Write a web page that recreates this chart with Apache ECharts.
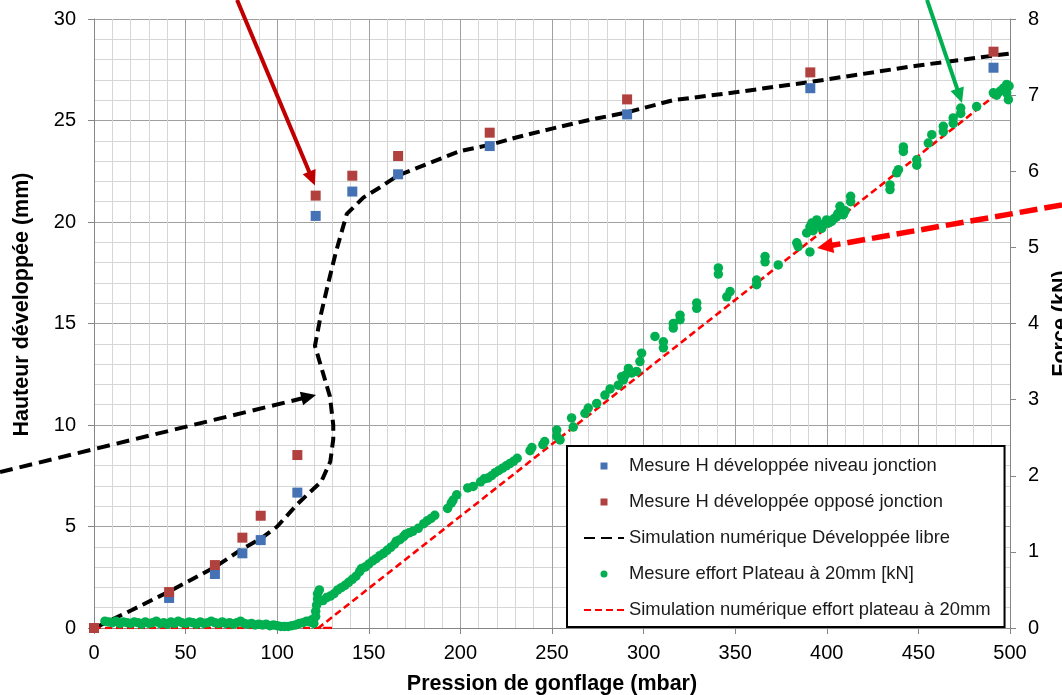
<!DOCTYPE html>
<html><head><meta charset="utf-8">
<script src="https://cdn.jsdelivr.net/npm/echarts@6/dist/echarts.min.js"></script>
<style>html,body{margin:0;padding:0;background:#fff}#c{width:1062px;height:695px}</style>
</head><body><div id="c"></div>
<script>
// ---- Data ----
const seriesNames = [
  'Mesure H développée niveau jonction',
  'Mesure H développée opposé jonction',
  'Simulation numérique Développée libre',
  'Mesure effort Plateau à 20mm [kN]',
  'Simulation numérique effort plateau à 20mm'
];
const measPressure = [0, 41, 66, 81, 91, 111, 121, 141, 166, 216, 291, 391, 491];
const hJonction    = [0, 1.48, 2.66, 3.68, 4.33, 6.67, 20.3, 21.5, 22.35, 23.74, 25.3, 26.59, 27.6];
const hOppose      = [0, 1.77, 3.1, 4.45, 5.53, 8.52, 21.3, 22.28, 23.25, 24.4, 26.04, 27.37, 28.39];

const simPressure = [1.5, 21, 41, 66, 81, 91, 100, 111, 118, 124, 129, 130.6, 130.6, 128.8, 120.6, 124, 127.9, 132, 134.5, 138, 147, 156, 166, 183, 200, 216, 232, 250, 269, 291, 316, 351, 391, 449, 500];
const simHauteur  = [0.05, 0.9, 1.8, 3.0, 3.9, 4.4, 5.0, 6.1, 6.7, 7.2, 8.2, 9.3, 10.0, 11.4, 13.9, 15.5, 17.0, 18.5, 19.3, 20.4, 21.2, 21.7, 22.3, 22.9, 23.5, 23.8, 24.2, 24.6, 25.0, 25.4, 26.0, 26.4, 26.9, 27.7, 28.3];

const forcePressure = [6,8,10,12,14,16,18,20,22,24,26,28,30,32,34,36,38,40,42,44,46,48,50,52,54,56,58,60,62,64,66,68,70,72,74,76,78,80,82,84,86,88,90,92,94,96,98,100,102,104,106,108,110,112,114,116,118,119,120,121,121,121.5,122,122,123,
  125,127,129,131,133,135,137,139,141,143,145,146,148,150,152,154,156,158,160,162,164,165,167,169,170,172,174,177,180,182,184,186,193,195,196,198,204,207,211,213,215,217,219,221,223,225,227,229,231,238,239,245,246,252.6,252.6,254.4,260.7,261.6,268,269.8,274.4,278.9,281.7,286.2,288,289,290,291.7,292,293.5,296.2,298,298.9,306.2,310.8,310.8,316.2,316.2,319.9,319.9,329,329,340.8,340.8,345.4,347.2,361.7,361.7,366.3,366.3,373.5,383.6,384.4,389,390.8,390.8,391.8,392.5,394.5,395.5,397.2,398.5,399.9,401,402.6,404,405.3,406,407.2,407.2,409,410,413,413,434.5,434.5,438.2,439.1,441.8,441.8,449.1,449.1,455.4,457.3,463.6,463.6,469,469,473.1,473.1,481.8,490.9,492.7,494.5,496.3,498.2,499.1,498.2,499.5];
const forceKN = [0.09,0.08,0.07,0.09,0.06,0.08,0.07,0.06,0.08,0.07,0.05,0.08,0.06,0.07,0.09,0.06,0.07,0.05,0.08,0.06,0.09,0.07,0.06,0.08,0.07,0.05,0.08,0.06,0.07,0.09,0.07,0.06,0.08,0.06,0.07,0.05,0.07,0.09,0.06,0.05,0.06,0.04,0.05,0.04,0.05,0.03,0.04,0.03,0.02,0.02,0.02,0.03,0.04,0.06,0.07,0.09,0.08,0.11,0.06,0.15,0.22,0.3,0.38,0.45,0.5,
  0.36,0.4,0.42,0.45,0.5,0.53,0.56,0.6,0.64,0.68,0.74,0.78,0.8,0.84,0.88,0.91,0.95,0.98,1.02,1.06,1.1,1.14,1.16,1.2,1.23,1.25,1.27,1.31,1.37,1.41,1.44,1.48,1.57,1.64,1.68,1.75,1.84,1.86,1.92,1.96,1.97,2.0,2.04,2.07,2.1,2.13,2.16,2.19,2.23,2.33,2.37,2.41,2.45,2.52,2.6,2.47,2.76,2.64,2.82,2.89,2.95,3.06,3.14,3.19,3.3,3.26,3.32,3.41,3.38,3.35,3.37,3.5,3.61,3.83,3.76,3.68,3.94,4.0,4.11,4.05,4.27,4.2,4.73,4.65,4.35,4.42,4.57,4.51,4.88,4.81,4.77,5.06,5.01,5.19,4.94,5.27,5.32,5.22,5.36,5.3,5.25,5.31,5.36,5.32,5.34,5.38,5.4,5.44,5.47,5.54,5.43,5.48,5.67,5.6,5.76,5.82,5.98,6.02,6.26,6.32,6.08,6.15,6.37,6.48,6.52,6.59,6.63,6.7,6.76,6.83,6.85,7.03,7.0,7.05,7.09,7.14,6.94,7.03,7.12];

const simForcePressure = [0, 130.5, 122.5, 492];
const simForceKN       = [0, 0, 0, 7.0];

// annotation arrows (data coordinates: mbar, mm)
const arrows = [
  {from:[78.1, 30.94], to:[120.6, 21.8], color:'#C00000', width:4, dash:null, head:15, hw:14},
  {from:[454.7, 30.94], to:[473.8, 25.86], color:'#00B050', width:4, dash:null, head:15, hw:14},
  {from:[528.4, 20.84], to:[394.7, 18.72], color:'#FF0000', width:5.5, dash:[18,7], head:16, hw:16},
  {from:[-51.3, 7.68], to:[121.2, 11.48], color:'#000000', width:4, dash:[13,7], head:15, hw:14}
];

const zip = (a, b) => a.map((v, i) => [v, b[i]]);

const chart = echarts.init(document.getElementById('c'), null, {renderer:'canvas'});
const font = 'Liberation Sans, Arial, sans-serif';
const majorC = '#A0A0A0', minorC = '#D6D6D6', axisC = '#868686';
const hiddenSym = {opacity: 0};

const option = {
  animation: false,
  backgroundColor: '#fff',
  textStyle: {fontFamily: font},
  grid: {left: 94, right: 52, top: 19, bottom: 67, containLabel: false, outerBoundsMode: 'none'},
  legend: {
    orient: 'vertical', left: 567, top: 446,
    padding: [11, 14, 8, 16],
    itemWidth: 40, itemHeight: 7, itemGap: 18,
    borderColor: '#000', borderWidth: 2, backgroundColor: '#fff',
    textStyle: {fontFamily: font, fontSize: 18.4, color: '#1a1a1a'},
    data: [
      {name: seriesNames[0], icon: 'path://M0,0H10V10H0Z'},
      {name: seriesNames[1], icon: 'path://M0,0H10V10H0Z'},
      {name: seriesNames[2], itemStyle: hiddenSym},
      {name: seriesNames[3], icon: 'circle'},
      {name: seriesNames[4], itemStyle: hiddenSym}
    ]
  },
  xAxis: {
    type: 'value', min: 0, max: 500, interval: 50,
    name: 'Pression de gonflage (mbar)', nameLocation: 'middle', nameGap: 45,
    nameTextStyle: {fontFamily: font, fontSize: 21.5, fontWeight: 'bold', color: '#000'},
    axisLine: {show: true, lineStyle: {color: axisC, width: 1}},
    axisTick: {show: true, inside: false, length: 6, lineStyle: {color: axisC}},
    axisLabel: {fontFamily: font, fontSize: 20, color: '#000', margin: 15},
    minorTick: {show: false, splitNumber: 5},
    splitLine: {show: true, lineStyle: {color: majorC, width: 1}},
    minorSplitLine: {show: true, lineStyle: {color: minorC, width: 1}}
  },
  yAxis: [
    {
      type: 'value', min: 0, max: 30, interval: 5, position: 'left',
      name: 'Hauteur développée (mm)', nameLocation: 'middle', nameGap: 61, nameRotate: 90,
      nameTextStyle: {fontFamily: font, fontSize: 21.5, fontWeight: 'bold', color: '#000', padding: [0, 0, 0, 38]},
      axisLine: {show: true, lineStyle: {color: axisC, width: 1}},
      axisTick: {show: true, inside: false, length: 6, lineStyle: {color: axisC}},
      axisLabel: {fontFamily: font, fontSize: 20, color: '#000', margin: 18},
      minorTick: {show: false, splitNumber: 5},
      splitLine: {show: true, lineStyle: {color: majorC, width: 1}},
      minorSplitLine: {show: true, lineStyle: {color: minorC, width: 1}}
    },
    {
      type: 'value', min: 0, max: 8, interval: 1, position: 'right',
      name: 'Force (kN)', nameLocation: 'middle', nameGap: 38, nameRotate: 90,
      nameTextStyle: {fontFamily: font, fontSize: 21.5, fontWeight: 'bold', color: '#000'},
      axisLine: {show: true, lineStyle: {color: axisC, width: 1}},
      axisTick: {show: true, inside: false, length: 6, lineStyle: {color: axisC}},
      axisLabel: {fontFamily: font, fontSize: 20, color: '#000', margin: 18},
      splitLine: {show: false}
    }
  ],
  series: [
    {name: seriesNames[0], type: 'scatter', yAxisIndex: 0, symbol: 'rect', symbolSize: 10,
     itemStyle: {color: '#4472B4', opacity: 1}, data: zip(measPressure, hJonction), z: 3},
    {name: seriesNames[1], type: 'scatter', yAxisIndex: 0, symbol: 'rect', symbolSize: 10,
     itemStyle: {color: '#B0413E', opacity: 1}, data: zip(measPressure, hOppose), z: 3},
    {name: seriesNames[2], type: 'line', yAxisIndex: 0, symbol: 'none', showSymbol: false, smooth: false,
     lineStyle: {color: '#000', width: 4, type: [11, 6]}, itemStyle: {color: '#000'},
     data: zip(simPressure, simHauteur), z: 3},
    {name: seriesNames[3], type: 'scatter', yAxisIndex: 1, symbol: 'circle', symbolSize: 9.5,
     itemStyle: {color: '#00B050', opacity: 1}, data: zip(forcePressure, forceKN), z: 3},
    {name: seriesNames[4], type: 'line', yAxisIndex: 1, symbol: 'none', showSymbol: false,
     lineStyle: {color: '#FF0000', width: 2.6, type: [7, 4]}, itemStyle: {color: '#FF0000'},
     data: zip(simForcePressure, simForceKN), z: 3}
  ]
};
chart.setOption(option);

function arrowGraphic(a) {
  const p0 = chart.convertToPixel({seriesIndex: 0}, a.from);
  const p1 = chart.convertToPixel({seriesIndex: 0}, a.to);
  const dx = p1[0] - p0[0], dy = p1[1] - p0[1], L = Math.hypot(dx, dy);
  const ux = dx / L, uy = dy / L, nx = -uy, ny = ux;
  const bx = p1[0] - ux * a.head, by = p1[1] - uy * a.head;
  return [
    {type: 'line', z: 20, silent: true,
     shape: {x1: p0[0], y1: p0[1], x2: bx + ux * 2, y2: by + uy * 2},
     style: {stroke: a.color, lineWidth: a.width, lineDash: a.dash || null, fill: null}},
    {type: 'polygon', z: 20, silent: true,
     shape: {points: [[p1[0], p1[1]], [bx + nx * a.hw / 2, by + ny * a.hw / 2], [bx - nx * a.hw / 2, by - ny * a.hw / 2]]},
     style: {fill: a.color}}
  ];
}
chart.setOption({graphic: {elements: arrows.flatMap(arrowGraphic)}});
</script></body></html>
